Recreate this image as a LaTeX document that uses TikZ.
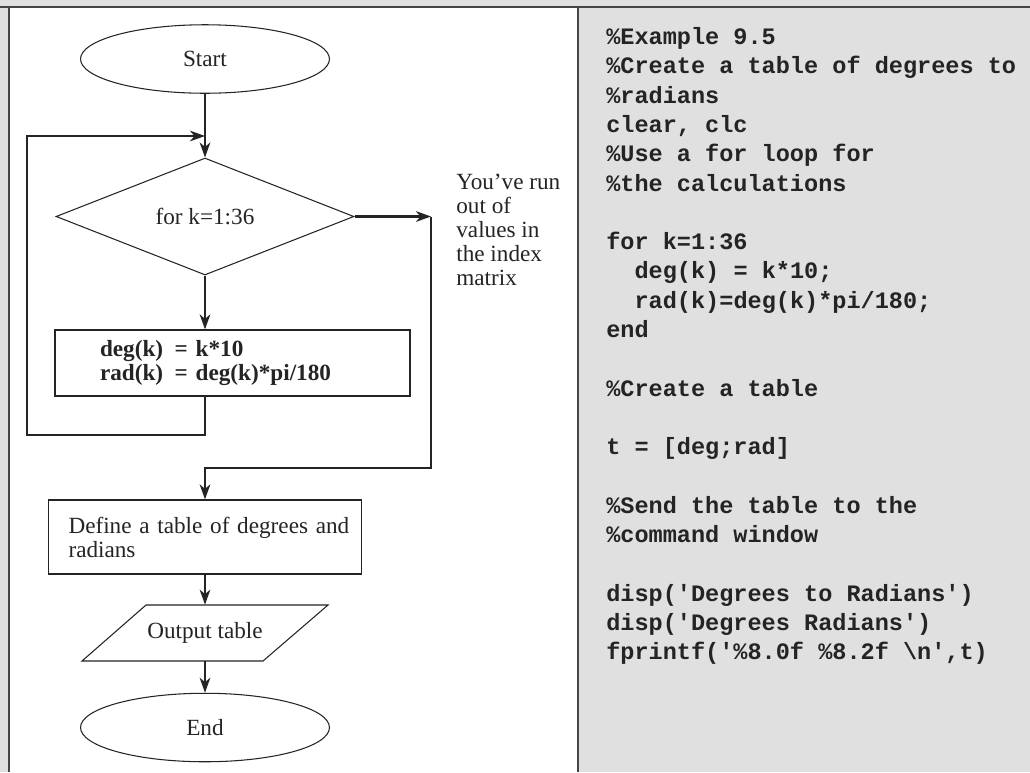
\documentclass[tikz,border=0pt]{standalone}
\usepackage{fontspec}
\setmainfont{Liberation Serif}
\newfontfamily\codefont{Liberation Mono}
\usepackage{tikz}
\usetikzlibrary{shapes,arrows.meta,positioning,calc}
\usepackage{xcolor}
\definecolor{panelgray}{HTML}{E0E0E0}
\definecolor{ink}{HTML}{242424}

\begin{document}
\begin{tikzpicture}[x=0.02cm, y=-0.02cm,
    every node/.style={text=ink, font=\fontsize{13.2}{13.6}\selectfont},
    wire/.style={draw=ink, line width=1.3pt},
    flow/.style={wire, -{Stealth[length=8.5pt, width=6pt, inset=2.5pt]}},
    frame/.style={draw=ink!85, line width=0.9pt},
    term/.style={ellipse, draw=ink, line width=0.6pt, minimum width=4.98cm, minimum height=1.37cm, inner sep=0pt},
    test/.style={diamond, draw=ink, line width=0.6pt, minimum width=5.96cm, minimum height=2.34cm, inner sep=0pt},
    stepbox/.style={rectangle, draw=ink, line width=0.7pt, align=left},
    code/.style={anchor=base west, inner sep=0pt, font=\codefont\bfseries\fontsize{13.4}{16}\selectfont}]
    \useasboundingbox (0,0) rectangle (1030,772);

    % Panels
    \fill[panelgray] (0,0) rectangle (1030,772);
    \fill[white] (9,7) rectangle (578,772);
    \draw[frame] (9,772) -- (9,7) -- (578,7) -- (578,772);
    \draw[frame, line width=1.4pt] (0,7) -- (1030,7);

    % Flowchart
    \node[term] (start) at (205,59) {Start};
    \node[test] (loop) at (205,216.5) {for k=1:36};
    \node[stepbox, font=\bfseries\fontsize{13.2}{13.6}\selectfont, text width=5.3cm, inner xsep=0.9cm,
          minimum height=1.32cm] (calc) at (232.5,363) {deg(k) \,= k*10\\rad(k) \,= deg(k)*pi/180};
    \node[stepbox, text width=5.46cm, inner xsep=0.4cm, minimum height=1.48cm] (table) at (205,537)
        {\mbox{Define a table of degrees and}\\radians};
    \node[minimum height=1.12cm, inner sep=0pt] (out) at (205,633) {Output table};
    \draw[ink, line width=0.6pt] (146,605) -- (328,605) -- (263,661) -- (82,661) -- cycle;
    \node[term] (end) at (205,727.5) {End};

    % Note
    \node[anchor=north west, align=left, inner sep=0pt] (note) at (456,174)
        {You’ve run\\out of\\values in\\the index\\matrix};

    % Connectors
    \coordinate (join) at (205,136);
    \coordinate (back) at (27,435);
    \coordinate (exit) at (431,216.5);
    \coordinate (exitlow) at (431,468);
    \draw[flow] (start) -- (loop);
    \draw[flow] (loop.south) -- (loop.south |- calc.north);
    \draw[flow] (loop.south |- calc.south) |- (back) |- (join);
    \draw[flow] (loop.east) -- (exit);
    \draw[flow] (exit) -- (exitlow) -| (table.north);
    \draw[flow] (table) -- (out);
    \draw[flow] (out) -- (end);

    % Code
    \foreach \idx/\src in {0/{\%Example 9.5}, 1/{\%Create a table of degrees to}, 2/{\%radians},
        3/{clear, clc}, 4/{\%Use a for loop for}, 5/{\%the calculations}, 7/{for k=1:36},
        8/{\hphantom{xx}deg(k) = k*10;}, 9/{\hphantom{xx}rad(k)=deg(k)*pi/180;}, 10/{end},
        12/{\%Create a table}, 14/{t = [deg;rad]}, 16/{\%Send the table to the},
        17/{\%command window}, 19/{disp('Degrees to Radians')}, 20/{disp('Degrees Radians')},
        21/{fprintf('\%8.0f \%8.2f \textbackslash n',t)}}
        \node[code] (code\idx) at (606,44.5+29.3*\idx) {\src};
\end{tikzpicture}
\end{document}
